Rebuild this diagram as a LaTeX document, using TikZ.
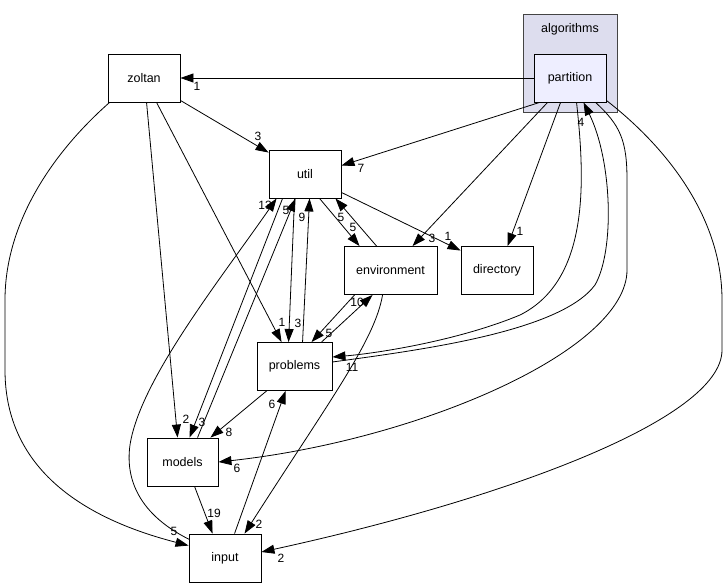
\documentclass[tikz,border=0pt]{standalone}
\usepackage{fontspec}
\setmainfont{Liberation Sans}
\usetikzlibrary{arrows.meta,calc}
\definecolor{clusterfill}{HTML}{DDDDEE}
\definecolor{clusterdraw}{HTML}{444444}
\definecolor{partfill}{HTML}{EEEEFF}
\tikzset{
  dirbox/.style={draw=black, line width=0.9pt, fill=white, inner sep=0pt,
    minimum width=72pt, minimum height=48pt, font=\fontsize{12.5}{14}\selectfont},
  dep/.style={draw=black, line width=0.8pt, -{Triangle[length=13pt,width=9pt]}},
  lbl/.style={inner sep=0pt, font=\fontsize{12}{14}\selectfont}
}
\begin{document}
\begin{tikzpicture}[x=1pt,y=-1pt]
\useasboundingbox (0,0) rectangle (728,588);
% cluster
\node[draw=clusterdraw, line width=1pt, fill=clusterfill, minimum width=94pt, minimum height=98pt, inner sep=0pt] (algo) at (570,64) {};
\node[lbl, font=\fontsize{12.5}{14}\selectfont] (algolbl) at (570,29) {algorithms};
% nodes
\node[dirbox, fill=partfill] (partition) at (570,78) {partition};
\node[dirbox] (zoltan) at (144,78) {zoltan};
\node[dirbox] (util) at (305,174) {util};
\node[dirbox, minimum width=93pt] (environment) at (390.5,270.5) {environment};
\node[dirbox] (directory) at (497,270.5) {directory};
\node[dirbox, minimum width=75pt] (problems) at (294.5,366.5) {problems};
\node[dirbox, minimum width=71pt] (models) at (182.5,462) {models};
\node[dirbox] (input) at (225,558) {input};

% partition -> zoltan
\draw[dep] (partition.west) -- (zoltan.east);
\node[lbl] (l1) at (197,86) {1};
% zoltan -> util
\draw[dep] ([yshift=2pt]zoltan.south east) -- ([yshift=-3pt]util.north west);
\node[lbl] (l2) at (258,136) {3};
% zoltan -> models
\draw[dep] ([xshift=39pt]zoltan.south west) -- ([xshift=31pt]models.north west);
\node[lbl] (l3) at (186,419) {2};
% zoltan -> problems
\draw[dep] ([xshift=49pt]zoltan.south west) -- ([xshift=25pt]problems.north west);
\node[lbl] (l4) at (282,322) {1};
% zoltan -> input
\draw[dep] ([xshift=2pt]zoltan.south west) .. controls (50,155) and (5,225) .. (5,300)
  -- (5,370) .. controls (5,460) and (70,515) .. ([yshift=-12pt]input.north west);
\node[lbl] (l5) at (174,531) {5};
% partition -> util
\draw[dep] ([xshift=6pt]partition.south west) -- ([yshift=-16pt]util.north east);
\node[lbl] (l6) at (361,168) {7};
% partition -> environment
\draw[dep] ([xshift=14pt]partition.south west) -- ([xshift=69pt]environment.north west);
\node[lbl] (l7) at (432,238) {3};
% partition -> directory
\draw[dep] ([xshift=27pt]partition.south west) -- ([xshift=47pt]directory.north west);
\node[lbl] (l8) at (520,231) {1};
% partition -> problems
\draw[dep] ([xshift=43pt]partition.south west) .. controls (585,180) and (590,280) .. (520,315)
  .. controls (460,340) and (380,353) .. ([yshift=9.5pt]problems.east);
\node[lbl] (l9) at (352,367) {11};
% problems -> partition
\draw[dep] ([yshift=4.5pt]problems.east) .. controls (420,350) and (560,332) .. (595,285)
  .. controls (615,250) and (612,160) .. ([xshift=50pt]partition.south west);
\node[lbl] (l10) at (581,122) {4};
% partition -> models
\draw[dep] ([xshift=62pt]partition.south west) .. controls (620,125) and (627,140) .. (627,180)
  -- (627,270) .. controls (627,350) and (420,440) .. (models.east);
\node[lbl] (l11) at (237,468) {6};
% partition -> input
\draw[dep] ([yshift=2pt]partition.south east) .. controls (670,150) and (722,220) .. (722,300)
  -- (722,350) .. controls (722,420) and (500,500) .. ([yshift=6pt]input.east);
\node[lbl] (l12) at (281,558) {2};
% util -> environment
\draw[dep] ([xshift=51pt]util.south west) -- ([xshift=16pt]environment.north west);
\node[lbl] (l13) at (353,227) {5};
% environment -> util
\draw[dep] ([xshift=33pt]environment.north west) -- ([xshift=-6pt]util.south east);
\node[lbl] (l14) at (341,217) {5};
% util -> directory
\draw[dep] ([yshift=6pt]util.south east) -- ([yshift=-4.5pt]directory.north west);
\node[lbl] (l15) at (448,236) {1};
% environment -> problems
\draw[dep] ([xshift=11pt]environment.south west) -- ([xshift=55pt]problems.north west);
\node[lbl] (l16) at (329,333) {5};
% problems -> environment
\draw[dep] ([xshift=65pt]problems.north west) -- ([xshift=29pt]environment.south west);
\node[lbl] (l17) at (357,302) {10};
% environment -> input
\draw[dep] ([xshift=39pt]environment.south west) .. controls (375,340) and (330,400) .. ([xshift=56pt]input.north west);
\node[lbl] (l18) at (259,524) {2};
% util -> problems
\draw[dep] ([xshift=26pt]util.south west) -- ([xshift=32pt]problems.north west);
\node[lbl] (l19) at (298,323) {3};
% problems -> util
\draw[dep] ([xshift=46pt]problems.north west) -- ([xshift=41pt]util.south west);
\node[lbl] (l20) at (302,217) {9};
% util -> models
\draw[dep] ([xshift=14pt]util.south west) -- ([xshift=43pt]models.north west);
\node[lbl] (l21) at (202,422) {3};
% models -> util
\draw[dep] ([xshift=51pt]models.north west) -- ([xshift=27pt]util.south west);
\node[lbl] (l22) at (286,210) {5};
% input -> util
\draw[dep] ([xshift=1pt,yshift=-6pt]input.north west) .. controls (140,515) and (125,480) .. (130,445)
  .. controls (140,380) and (220,280) .. ([xshift=8pt]util.south west);
\node[lbl] (l23) at (265,205) {13};
% problems -> models
\draw[dep] ([xshift=10pt]problems.south west) -- ([xshift=-8pt]models.north east);
\node[lbl] (l24) at (229,432) {8};
% models -> input
\draw[dep] ([xshift=48pt]models.south west) -- ([xshift=24pt]input.north west);
\node[lbl] (l25) at (214,513) {19};
% input -> problems
\draw[dep] ([xshift=46pt]input.north west) -- ([xshift=29pt]problems.south west);
\node[lbl] (l26) at (272,404) {6};
\end{tikzpicture}
\end{document}
